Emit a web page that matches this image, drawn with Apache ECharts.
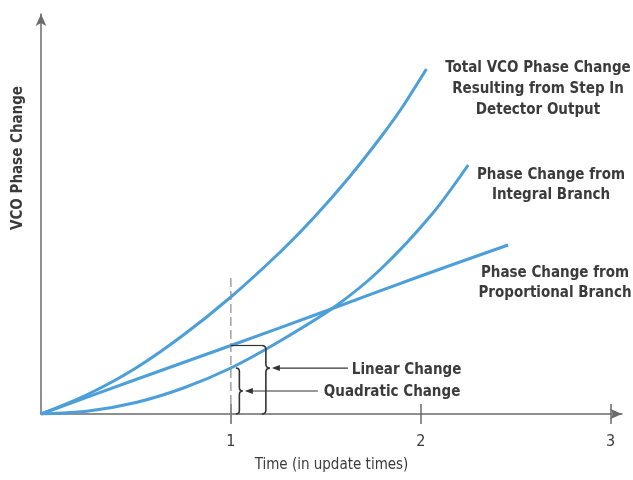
<!DOCTYPE html>
<html>
<head>
<meta charset="utf-8">
<script src="https://cdn.jsdelivr.net/npm/echarts@6/dist/echarts.min.js"></script>
<style>html,body{margin:0;padding:0;background:#fff;}#c{width:633px;height:480px;}</style>
</head>
<body>
<div id="c"></div>
<script>
// ---- data (x in update times, y in arbitrary phase units) ----
const xTicks = [1, 2, 3];
const totalCurve = [[0,0],[0.25,0.2],[0.5,0.46],[0.75,0.79],[1,1.17],[1.26,1.62],[1.44,1.97],[1.62,2.36],[1.79,2.77],[1.9,3.06],[2.03,3.45]];
const integralCurve = [[0,0],[0.25,0.03],[0.5,0.115],[0.75,0.26],[1,0.46],[1.25,0.72],[1.545,1.07],[1.79,1.45],[2.06,2.0],[2.25,2.49]];
const proportionalCurve = [[0,0],[0.5,0.345],[1,0.685],[1.5,1.03],[2,1.38],[2.46,1.69]];
const markTime = 1;          // time of the dashed marker
const linearAtMark = 0.685;  // proportional branch at t = 1
const quadAtMark = 0.46;     // integral branch at t = 1
const dashRange = [-0.08, 1.36];
const curveLabels = ['Total VCO Phase Change\nResulting from Step In\nDetector Output', 'Phase Change from\nIntegral Branch', 'Phase Change from\nProportional Branch'];
const braceLabels = ['Linear Change', 'Quadratic Change'];
const xTitle = 'Time (in update times)';
const yTitle = 'VCO Phase Change';

const FONT = "'DejaVu Sans Condensed','Liberation Sans Narrow',sans-serif";
const TXT = '#3b3b3b';
const BLUE = '#4c9fd8';
const AX = '#6b6b6b';
const LBL = 'bold 15px ' + FONT;

const chart = echarts.init(document.getElementById('c'), null, {renderer: 'canvas'});

function bracePath(x, y1, y2, ym, d) {
  return 'M' + x + ' ' + y1 + ' Q' + (x + d) + ' ' + y1 + ' ' + (x + d) + ' ' + (y1 + d) +
    ' L' + (x + d) + ' ' + (ym - d) + ' Q' + (x + d) + ' ' + ym + ' ' + (x + 2 * d) + ' ' + ym +
    ' Q' + (x + d) + ' ' + ym + ' ' + (x + d) + ' ' + (ym + d) +
    ' L' + (x + d) + ' ' + (y2 - d) + ' Q' + (x + d) + ' ' + y2 + ' ' + x + ' ' + y2;
}

const lineCurve = (name, data) => ({
  type: 'line', name, data, smooth: 0.3, showSymbol: false, xAxisIndex: 0,
  lineStyle: {color: BLUE, width: 3}, itemStyle: {color: BLUE}, z: 3, silent: true
});

const option = {
  animation: false,
  backgroundColor: '#ffffff',
  grid: {left: 41, top: 14, right: 11, bottom: 66, containLabel: false},
  xAxis: [{
    type: 'value', min: 0, max: 3.06, interval: 1, position: 'bottom',
    name: xTitle, nameLocation: 'middle', nameGap: 44,
    nameTextStyle: {fontFamily: FONT, fontSize: 15, color: TXT},
    axisLine: {show: true, lineStyle: {color: AX, width: 1.5}, symbol: ['none', 'arrow'], symbolSize: [8, 12]},
    axisTick: {show: true, length: 10, customValues: xTicks, lineStyle: {color: AX, width: 1.5}},
    axisLabel: {show: true, customValues: xTicks, margin: 20, fontFamily: FONT, fontSize: 16, color: TXT},
    splitLine: {show: false}
  }, {
    type: 'value', min: 0, max: 3.06, interval: 1, position: 'bottom',
    axisLine: {show: false},
    axisTick: {show: true, inside: true, length: 10, customValues: xTicks, lineStyle: {color: AX, width: 1.5}},
    axisLabel: {show: false}, splitLine: {show: false}
  }],
  yAxis: {
    type: 'value', min: 0, max: 4,
    axisLine: {show: true, lineStyle: {color: AX, width: 1.5}, symbol: ['none', 'arrow'], symbolSize: [8, 12]},
    axisTick: {show: false}, axisLabel: {show: false}, splitLine: {show: false}
  },
  series: [
    lineCurve('total', totalCurve),
    lineCurve('integral', integralCurve),
    lineCurve('proportional', proportionalCurve),
    {
      type: 'custom', xAxisIndex: 0, clip: false, silent: true, z: 4,
      data: [[markTime, linearAtMark, quadAtMark]],
      renderItem: function (params, api) {
        const t = api.value(0), lin = api.value(1), quad = api.value(2);
        const top = api.coord([t, dashRange[1]]);
        const bot = api.coord([t, dashRange[0]]);
        const p0 = api.coord([t, 0]);
        const pL = api.coord([t, lin]);
        const pQ = api.coord([t, quad]);
        const ink = '#333';
        const qx = p0[0] + 5;
        const qm = (pQ[1] + p0[1]) / 2;
        const lx = p0[0] + 31;
        const lm = pL[1] + (p0[1] - pL[1]) * 0.33;
        return {
          type: 'group',
          children: [
            {type: 'line', shape: {x1: top[0], y1: top[1], x2: bot[0], y2: bot[1]},
             style: {stroke: '#8a8a8a', lineWidth: 1.2, lineDash: [9, 4]}},
            {type: 'path', shape: {pathData: bracePath(qx, pQ[1], p0[1], qm, 3.5)},
             style: {stroke: ink, lineWidth: 1.6, fill: null}},
            {type: 'line', shape: {x1: p0[0], y1: pL[1], x2: lx, y2: pL[1]},
             style: {stroke: ink, lineWidth: 1.2}},
            {type: 'path', shape: {pathData: bracePath(lx, pL[1], p0[1], lm, 4)},
             style: {stroke: ink, lineWidth: 1.6, fill: null}},
            {type: 'line', shape: {x1: lx + 12, y1: lm, x2: lx + 86, y2: lm}, style: {stroke: ink, lineWidth: 1.2}},
            {type: 'polygon', shape: {points: [[lx + 10, lm], [lx + 18, lm - 3], [lx + 18, lm + 3]]}, style: {fill: ink}},
            {type: 'text', x: lx + 90, y: lm + 2,
             style: {text: braceLabels[0], font: LBL, fill: TXT, textAlign: 'left', textVerticalAlign: 'middle'}},
            {type: 'line', shape: {x1: qx + 11, y1: qm, x2: qx + 82, y2: qm}, style: {stroke: ink, lineWidth: 1.2}},
            {type: 'polygon', shape: {points: [[qx + 9, qm], [qx + 17, qm - 3], [qx + 17, qm + 3]]}, style: {fill: ink}},
            {type: 'text', x: qx + 88, y: qm + 1,
             style: {text: braceLabels[1], font: LBL, fill: TXT, textAlign: 'left', textVerticalAlign: 'middle'}}
          ]
        };
      }
    }
  ],
  graphic: [
    {type: 'text', x: 18, y: 158, rotation: Math.PI / 2,
     style: {text: yTitle, font: LBL, fill: TXT, textAlign: 'center', textVerticalAlign: 'middle'}},
    {type: 'text', x: 538, y: 89,
     style: {text: curveLabels[0], font: LBL, lineHeight: 21, fill: TXT, textAlign: 'center', textVerticalAlign: 'middle'}},
    {type: 'text', x: 551, y: 185,
     style: {text: curveLabels[1], font: LBL, lineHeight: 20, fill: TXT, textAlign: 'center', textVerticalAlign: 'middle'}},
    {type: 'text', x: 555, y: 283,
     style: {text: curveLabels[2], font: LBL, lineHeight: 20, fill: TXT, textAlign: 'center', textVerticalAlign: 'middle'}}
  ]
};
chart.setOption(option);
</script>
</body>
</html>
